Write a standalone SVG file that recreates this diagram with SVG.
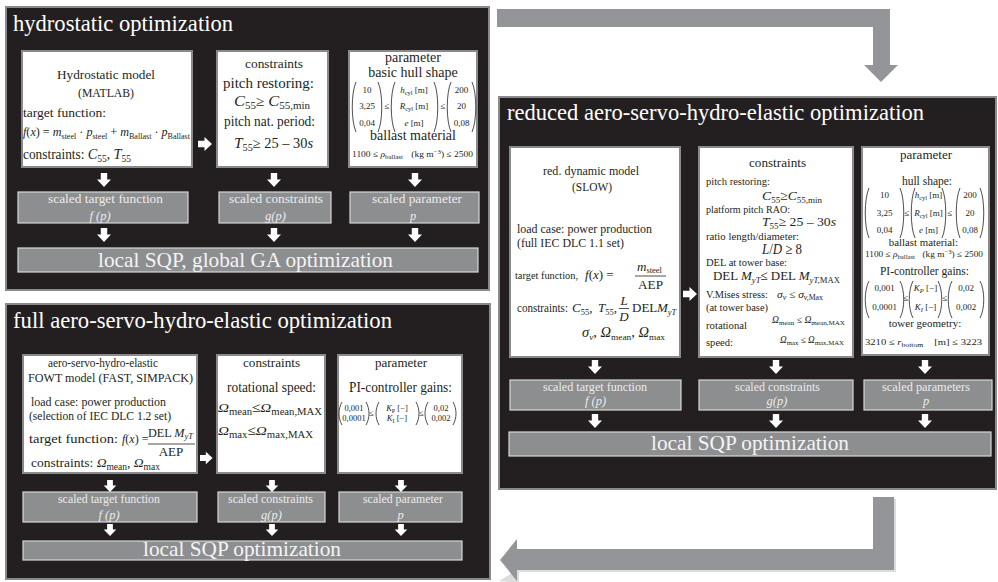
<svg xmlns="http://www.w3.org/2000/svg" width="998" height="582" viewBox="0 0 998 582" font-family="'Liberation Serif', 'DejaVu Serif', serif">
<defs>
<style>
.pn{fill:#231f20;stroke:#8a8a8a;stroke-width:2}
.bx{fill:#fff;stroke:#8a8a8a;stroke-width:2}
.sc{fill:#8d8e90;stroke:#d6d6d6;stroke-width:1.2}
.wa{fill:#fff}
.big{fill:#939598}
text{font-family:'Liberation Serif','DejaVu Serif',serif;fill:#231f20}
.ttl{font-size:22.7px;fill:#fff}
.bar{font-size:21px;fill:#f4f4f4}
.sl{font-size:12.5px;fill:#ececec}
.c{text-anchor:middle}
.i{font-style:italic}
.pr{fill:none;stroke:#231f20;stroke-width:0.8}
.fl{stroke:#231f20;stroke-width:0.8}
</style>
<path id="ad" d="M-3.2 0H3.2V6.5H7L0 14L-7 6.5H-3.2Z"/>
<path id="ar" d="M0 -3.2H6.5V-7L14 0L6.5 7V3.2H0Z"/>
</defs>
<rect width="998" height="582" fill="#fff"/>

<!-- stage 1: hydrostatic optimization -->
<g id="stage-hydrostatic">
<rect class="pn" x="6" y="7" width="483" height="283"/>
<text class="ttl" x="13" y="31" textLength="220" lengthAdjust="spacingAndGlyphs">hydrostatic optimization</text>
</g>
<g id="hs-model">
<rect class="bx" x="22" y="51" width="170" height="116"/>
<text x="57" y="79" font-size="13" textLength="98" lengthAdjust="spacingAndGlyphs">Hydrostatic model</text>
<text x="78" y="97" font-size="13" textLength="56" lengthAdjust="spacingAndGlyphs">(MATLAB)</text>
<text x="23" y="117" font-size="13.5" textLength="83" lengthAdjust="spacingAndGlyphs">target function:</text>
<text x="23" y="136" font-size="12" textLength="167" lengthAdjust="spacingAndGlyphs"><tspan class="i">f</tspan>(<tspan class="i">x</tspan>) = <tspan class="i">m</tspan><tspan font-size="8" dy="2.5">steel</tspan><tspan dy="-2.5"> · </tspan><tspan class="i">p</tspan><tspan font-size="8" dy="2.5">steel</tspan><tspan dy="-2.5"> + </tspan><tspan class="i">m</tspan><tspan font-size="8" dy="2.5">Ballast</tspan><tspan dy="-2.5"> · </tspan><tspan class="i">p</tspan><tspan font-size="8" dy="2.5">Ballast</tspan></text>
<text x="23" y="159" font-size="14" textLength="108" lengthAdjust="spacingAndGlyphs">constraints: <tspan class="i" font-size="15">C</tspan><tspan font-size="10" dy="3">55</tspan><tspan dy="-3">, </tspan><tspan class="i" font-size="15">T</tspan><tspan font-size="10" dy="3">55</tspan></text>
</g>
<g id="hs-constraints">
<rect class="bx" x="217" y="51" width="111" height="116"/>
<text x="245" y="68" font-size="13" textLength="58" lengthAdjust="spacingAndGlyphs">constraints</text>
<text x="223" y="88" font-size="14" textLength="91" lengthAdjust="spacingAndGlyphs">pitch restoring:</text>
<text x="234" y="106" font-size="14" textLength="76" lengthAdjust="spacingAndGlyphs"><tspan class="i" font-size="15">C</tspan><tspan font-size="10" dy="3">55</tspan><tspan dy="-3">≥ </tspan><tspan class="i" font-size="15">C</tspan><tspan font-size="10" dy="3">55,min</tspan></text>
<text x="224" y="126" font-size="14" textLength="91" lengthAdjust="spacingAndGlyphs">pitch nat. period:</text>
<text x="234" y="148" font-size="14" textLength="79" lengthAdjust="spacingAndGlyphs"><tspan class="i" font-size="15">T</tspan><tspan font-size="10" dy="3">55</tspan><tspan dy="-3">≥ 25 – 30<tspan class="i">s</tspan></tspan></text>
</g>
<g id="hs-parameter">
<rect class="bx" x="349" y="51" width="128" height="116"/>
<text class="c" x="413" y="62" font-size="14">parameter</text>
<text class="c" x="413" y="77" font-size="14">basic hull shape</text>
<path class="pr" d="M356 82C351 93 351 121 356 132M378 82C383 93 383 121 378 132"/>
<text class="c" x="367" y="93" font-size="9">10</text>
<text class="c" x="367" y="109" font-size="9">3,25</text>
<text class="c" x="367" y="126" font-size="9">0,04</text>
<text class="c" x="387" y="109" font-size="9">≤</text>
<path class="pr" d="M395 82C390 93 390 121 395 132M434 82C439 93 439 121 434 132"/>
<text class="c" x="414" y="93" font-size="9"><tspan class="i">h</tspan><tspan font-size="6.5" dy="1.5">cyl</tspan><tspan dy="-1.5"> [m]</tspan></text>
<text class="c" x="414" y="109" font-size="9"><tspan class="i">R</tspan><tspan font-size="6.5" dy="1.5">cyl</tspan><tspan dy="-1.5"> [m]</tspan></text>
<text class="c" x="414" y="126" font-size="9"><tspan class="i">e</tspan> [m]</text>
<text class="c" x="443" y="109" font-size="9">≤</text>
<path class="pr" d="M451 82C446 93 446 121 451 132M472 82C477 93 477 121 472 132"/>
<text class="c" x="461.5" y="93" font-size="9">200</text>
<text class="c" x="461.5" y="109" font-size="9">20</text>
<text class="c" x="461.5" y="126" font-size="9">0,08</text>
<text class="c" x="413" y="140" font-size="14">ballast material</text>
<text x="352" y="157" font-size="9" textLength="121" lengthAdjust="spacingAndGlyphs">1100 ≤ <tspan class="i">ρ</tspan><tspan font-size="6.5" dy="1.5">ballast</tspan><tspan dy="-1.5" dx="8">(kg m</tspan><tspan font-size="6.5" dy="-3">−3</tspan><tspan dy="3">) ≤ 2500</tspan></text>
</g>
<g id="hs-scaled-target">
<rect class="sc" x="18" y="192" width="170" height="31"/>
<text class="sl" x="48" y="203" font-size="13" textLength="115" lengthAdjust="spacingAndGlyphs">scaled target function</text>
<text class="sl c i" x="100" y="220" font-size="13">f (p)</text>
</g>
<g id="hs-scaled-constraints">
<rect class="sc" x="219" y="192" width="112" height="31"/>
<text class="sl" x="229" y="203" textLength="94" lengthAdjust="spacingAndGlyphs">scaled constraints</text>
<text class="sl c i" x="275.5" y="220">g(p)</text>
</g>
<g id="hs-scaled-parameter">
<rect class="sc" x="350" y="192" width="129" height="31"/>
<text class="sl" x="372" y="203" textLength="90" lengthAdjust="spacingAndGlyphs">scaled parameter</text>
<text class="sl c i" x="413" y="220">p</text>
</g>
<g id="hs-solver">
<rect class="sc" x="18" y="248" width="460" height="24"/>
<text class="bar" x="98" y="267" textLength="295" lengthAdjust="spacingAndGlyphs">local SQP, global GA optimization</text>
</g>

<!-- stage 2: reduced aero-servo-hydro-elastic optimization -->
<g id="stage-reduced">
<rect class="pn" x="499" y="97" width="497" height="392"/>
<text class="ttl" x="507" y="120" textLength="417" lengthAdjust="spacingAndGlyphs">reduced aero-servo-hydro-elastic optimization</text>
</g>
<g id="red-model">
<rect class="bx" x="510" y="147" width="170" height="210"/>
<text x="543" y="175" font-size="12" textLength="96" lengthAdjust="spacingAndGlyphs">red. dynamic model</text>
<text x="572" y="191" font-size="12" textLength="40" lengthAdjust="spacingAndGlyphs">(SLOW)</text>
<text x="517" y="233" font-size="12.5" textLength="135" lengthAdjust="spacingAndGlyphs">load case: power production</text>
<text x="517" y="247" font-size="12.5" textLength="107" lengthAdjust="spacingAndGlyphs">(full IEC DLC 1.1 set)</text>
<text x="515" y="279" font-size="11" textLength="63" lengthAdjust="spacingAndGlyphs">target function,</text>
<text x="585" y="279" font-size="13"><tspan class="i">f</tspan>(<tspan class="i">x</tspan>) =</text>
<text x="637" y="271"><tspan class="i" font-size="13">m</tspan><tspan font-size="8.5" dy="2">steel</tspan></text>
<line class="fl" x1="635" y1="276" x2="666" y2="276"/>
<text x="638" y="289" font-size="13" textLength="25" lengthAdjust="spacingAndGlyphs">AEP</text>
<text x="517" y="312" font-size="11.5" textLength="51" lengthAdjust="spacingAndGlyphs">constraints:</text>
<text x="572" y="312" font-size="13"><tspan class="i">C</tspan><tspan font-size="8.5" dy="2.5">55</tspan><tspan dy="-2.5">,</tspan></text>
<text x="598" y="312" font-size="13"><tspan class="i">T</tspan><tspan font-size="8.5" dy="2.5">55</tspan><tspan dy="-2.5">,</tspan></text>
<text class="c i" x="624" y="305" font-size="13">L</text>
<line class="fl" x1="619" y1="308.5" x2="629" y2="308.5"/>
<text class="c i" x="624" y="321" font-size="13">D</text>
<text x="632" y="312" font-size="13">DEL</text>
<text x="657" y="312" font-size="13"><tspan class="i">M</tspan><tspan class="i" font-size="8.5" dy="2.5">yT</tspan></text>
<text x="582" y="337" font-size="14" textLength="83" lengthAdjust="spacingAndGlyphs"><tspan class="i">σ</tspan><tspan class="i" font-size="9" dy="2.5">v</tspan><tspan dy="-2.5">, </tspan><tspan class="i">Ω</tspan><tspan font-size="9" dy="2.5">mean</tspan><tspan dy="-2.5">, </tspan><tspan class="i">Ω</tspan><tspan font-size="9" dy="2.5">max</tspan></text>
</g>
<g id="red-constraints">
<rect class="bx" x="699" y="147" width="154" height="210"/>
<text x="749" y="167" font-size="13" textLength="57" lengthAdjust="spacingAndGlyphs">constraints</text>
<text x="706" y="185" font-size="10.5" textLength="64" lengthAdjust="spacingAndGlyphs">pitch restoring:</text>
<text x="762" y="200" font-size="13" textLength="60" lengthAdjust="spacingAndGlyphs"><tspan class="i">C</tspan><tspan font-size="8.5" dy="2.5">55</tspan><tspan dy="-2.5">≥</tspan><tspan class="i">C</tspan><tspan font-size="8.5" dy="2.5">55,min</tspan></text>
<text x="706" y="213" font-size="10.5" textLength="84" lengthAdjust="spacingAndGlyphs">platform pitch RAO:</text>
<text x="762" y="226" font-size="13" textLength="74" lengthAdjust="spacingAndGlyphs"><tspan class="i">T</tspan><tspan font-size="8.5" dy="2.5">55</tspan><tspan dy="-2.5">≥ 25 – 30<tspan class="i">s</tspan></tspan></text>
<text x="706" y="240" font-size="10.5" textLength="93" lengthAdjust="spacingAndGlyphs">ratio length/diameter:</text>
<text x="762" y="254" font-size="15" textLength="40" lengthAdjust="spacingAndGlyphs"><tspan class="i">L</tspan>/<tspan class="i">D</tspan> ≥ 8</text>
<text x="706" y="266" font-size="10.5" textLength="81" lengthAdjust="spacingAndGlyphs">DEL at tower base:</text>
<text x="713" y="280" font-size="13.5" textLength="127" lengthAdjust="spacingAndGlyphs">DEL <tspan class="i">M</tspan><tspan class="i" font-size="9" dy="2.5">yT</tspan><tspan dy="-2.5">≤ DEL </tspan><tspan class="i">M</tspan><tspan class="i" font-size="9" dy="2.5">yT,</tspan><tspan font-size="9">MAX</tspan></text>
<text x="706" y="298" font-size="10.5" textLength="62" lengthAdjust="spacingAndGlyphs">V.Mises stress:</text>
<text x="777" y="298" font-size="11" textLength="46" lengthAdjust="spacingAndGlyphs"><tspan class="i">σ</tspan><tspan class="i" font-size="7.5" dy="2">v</tspan><tspan dy="-2"> ≤ </tspan><tspan class="i">σ</tspan><tspan class="i" font-size="7.5" dy="2">v,</tspan><tspan font-size="7.5">Max</tspan></text>
<text x="706" y="311" font-size="10.5" textLength="62" lengthAdjust="spacingAndGlyphs">(at tower base)</text>
<text x="772" y="323" font-size="9.5" textLength="73" lengthAdjust="spacingAndGlyphs"><tspan class="i">Ω</tspan><tspan font-size="7" dy="2">mean</tspan><tspan dy="-2"> ≤ </tspan><tspan class="i">Ω</tspan><tspan font-size="7" dy="2">mean,MAX</tspan></text>
<text x="706" y="329" font-size="10.5" textLength="41" lengthAdjust="spacingAndGlyphs">rotational</text>
<text x="706" y="346" font-size="10.5" textLength="27" lengthAdjust="spacingAndGlyphs">speed:</text>
<text x="780" y="343" font-size="9.5" textLength="64" lengthAdjust="spacingAndGlyphs"><tspan class="i">Ω</tspan><tspan font-size="7" dy="2">max</tspan><tspan dy="-2"> ≤ </tspan><tspan class="i">Ω</tspan><tspan font-size="7" dy="2">max,MAX</tspan></text>
</g>
<g id="red-parameter">
<rect class="bx" x="862" y="147" width="127" height="208"/>
<text class="c" x="926" y="159" font-size="13">parameter</text>
<text class="c" x="927" y="185" font-size="11.5">hull shape:</text>
<path class="pr" d="M869 188C864 199 864 227 869 238M900 188C905 199 905 227 900 238"/>
<text class="c" x="884.5" y="198" font-size="9">10</text>
<text class="c" x="884.5" y="216" font-size="9">3,25</text>
<text class="c" x="884.5" y="233" font-size="9">0,04</text>
<text class="c" x="907" y="216" font-size="9">≤</text>
<path class="pr" d="M915 188C910 199 910 227 915 238M942 188C947 199 947 227 942 238"/>
<text class="c" x="928.5" y="198" font-size="9"><tspan class="i">h</tspan><tspan font-size="6.5" dy="1.5">cyl</tspan><tspan dy="-1.5"> [m]</tspan></text>
<text class="c" x="928.5" y="216" font-size="9"><tspan class="i">R</tspan><tspan font-size="6.5" dy="1.5">cyl</tspan><tspan dy="-1.5"> [m]</tspan></text>
<text class="c" x="928.5" y="233" font-size="9"><tspan class="i">e</tspan> [m]</text>
<text class="c" x="950" y="216" font-size="9">≤</text>
<path class="pr" d="M960 188C955 199 955 227 960 238M980 188C985 199 985 227 980 238"/>
<text class="c" x="970" y="198" font-size="9">200</text>
<text class="c" x="970" y="216" font-size="9">20</text>
<text class="c" x="970" y="233" font-size="9">0,08</text>
<text class="c" x="923.5" y="246" font-size="10.8">ballast material:</text>
<text x="865" y="257" font-size="8.7" textLength="118" lengthAdjust="spacingAndGlyphs">1100 ≤ <tspan class="i">ρ</tspan><tspan font-size="6.3" dy="1.5">ballast</tspan><tspan dy="-1.5" dx="7">(kg m</tspan><tspan font-size="6.3" dy="-3">−3</tspan><tspan dy="3">) ≤ 2500</tspan></text>
<text class="c" x="924.5" y="275" font-size="11.5">PI-controller gains:</text>
<path class="pr" d="M869 281C864 290 864 309 869 318M900 281C905 290 905 309 900 318"/>
<text class="c" x="884.5" y="291" font-size="9">0,001</text>
<text class="c" x="884.5" y="310" font-size="9">0,0001</text>
<text class="c" x="906" y="301" font-size="9">≤</text>
<path class="pr" d="M913 281C908 290 908 309 913 318M938 281C943 290 943 309 938 318"/>
<text class="c" x="925.5" y="291" font-size="9"><tspan class="i">K</tspan><tspan class="i" font-size="6.5" dy="1.5">P</tspan><tspan dy="-1.5"> [−]</tspan></text>
<text class="c" x="925.5" y="310" font-size="9"><tspan class="i">K</tspan><tspan class="i" font-size="6.5" dy="1.5">I</tspan><tspan dy="-1.5"> [−]</tspan></text>
<text class="c" x="945" y="301" font-size="9">≤</text>
<path class="pr" d="M952 281C947 290 947 309 952 318M980 281C985 290 985 309 980 318"/>
<text class="c" x="966" y="291" font-size="9">0,02</text>
<text class="c" x="966" y="310" font-size="9">0,002</text>
<text class="c" x="925" y="327" font-size="11">tower geometry:</text>
<text x="865" y="345" font-size="8.7" textLength="117" lengthAdjust="spacingAndGlyphs">3210 ≤ <tspan class="i">r</tspan><tspan font-size="6.3" dy="1.5">bottom</tspan><tspan dy="-1.5" dx="9">[m] ≤ 3223</tspan></text>
</g>
<g id="red-scaled-target">
<rect class="sc" x="510" y="380" width="171" height="30"/>
<text class="sl" x="543" y="391" font-size="12" textLength="104" lengthAdjust="spacingAndGlyphs">scaled target function</text>
<text class="sl c i" x="595.5" y="405" font-size="12">f (p)</text>
</g>
<g id="red-scaled-constraints">
<rect class="sc" x="699" y="380" width="154" height="30"/>
<text class="sl" x="735" y="391" font-size="12" textLength="85" lengthAdjust="spacingAndGlyphs">scaled constraints</text>
<text class="sl c i" x="777" y="405" font-size="12">g(p)</text>
</g>
<g id="red-scaled-parameters">
<rect class="sc" x="864" y="380" width="128" height="30"/>
<text class="sl" x="882" y="391" font-size="12" textLength="88" lengthAdjust="spacingAndGlyphs">scaled parameters</text>
<text class="sl c i" x="926" y="405" font-size="12">p</text>
</g>
<g id="red-solver">
<rect class="sc" x="509" y="432" width="482" height="24"/>
<text class="bar" x="651" y="450" textLength="198" lengthAdjust="spacingAndGlyphs">local SQP optimization</text>
</g>

<!-- stage 3: full aero-servo-hydro-elastic optimization -->
<g id="stage-full">
<rect class="pn" x="6" y="304" width="484" height="275"/>
<text class="ttl" x="13" y="328" textLength="379" lengthAdjust="spacingAndGlyphs">full aero-servo-hydro-elastic optimization</text>
</g>
<g id="full-model">
<rect class="bx" x="23" y="355" width="174" height="118"/>
<text x="48" y="367" font-size="12.5" textLength="110" lengthAdjust="spacingAndGlyphs">aero-servo-hydro-elastic</text>
<text x="28" y="382" font-size="13" textLength="165" lengthAdjust="spacingAndGlyphs">FOWT model (FAST, SIMPACK)</text>
<text x="31" y="406" font-size="12.5" textLength="135" lengthAdjust="spacingAndGlyphs">load case: power production</text>
<text x="29" y="420" font-size="12.5" textLength="142" lengthAdjust="spacingAndGlyphs">(selection of IEC DLC 1.2 set)</text>
<text x="29" y="443" font-size="13.5" textLength="89" lengthAdjust="spacingAndGlyphs">target function:</text>
<text x="122" y="443" font-size="12"><tspan class="i">f</tspan>(<tspan class="i">x</tspan>) =</text>
<text x="148" y="437" font-size="13" textLength="45" lengthAdjust="spacingAndGlyphs">DEL <tspan class="i">M</tspan><tspan class="i" font-size="9" dy="2">yT</tspan></text>
<line class="fl" x1="148" y1="444" x2="195" y2="444"/>
<text class="c" x="171" y="456" font-size="13">AEP</text>
<text x="31" y="467" font-size="13.5" textLength="129" lengthAdjust="spacingAndGlyphs">constraints: <tspan class="i">Ω</tspan><tspan font-size="9.5" dy="3">mean</tspan><tspan dy="-3">, </tspan><tspan class="i">Ω</tspan><tspan font-size="9.5" dy="3">max</tspan></text>
</g>
<g id="full-constraints">
<rect class="bx" x="217" y="355" width="108" height="118"/>
<text x="243" y="367" font-size="13" textLength="57" lengthAdjust="spacingAndGlyphs">constraints</text>
<text x="227" y="392" font-size="14" textLength="89" lengthAdjust="spacingAndGlyphs">rotational speed:</text>
<text x="218" y="412" font-size="13.5" textLength="104" lengthAdjust="spacingAndGlyphs"><tspan class="i">Ω</tspan><tspan font-size="9.5" dy="3">mean</tspan><tspan dy="-3">≤</tspan><tspan class="i">Ω</tspan><tspan font-size="9.5" dy="3">mean,MAX</tspan></text>
<text x="218" y="435" font-size="13.5" textLength="95" lengthAdjust="spacingAndGlyphs"><tspan class="i">Ω</tspan><tspan font-size="9.5" dy="3">max</tspan><tspan dy="-3">≤</tspan><tspan class="i">Ω</tspan><tspan font-size="9.5" dy="3">max,MAX</tspan></text>
</g>
<g id="full-parameter">
<rect class="bx" x="338" y="355" width="124" height="118"/>
<text x="375" y="367" font-size="13" textLength="52" lengthAdjust="spacingAndGlyphs">parameter</text>
<text x="349" y="392" font-size="14" textLength="103" lengthAdjust="spacingAndGlyphs">PI-controller gains:</text>
<path class="pr" d="M342 402C338 409 338 418 342 425M366 402C370 409 370 418 366 425"/>
<text class="c" x="354" y="411" font-size="8.5">0,001</text>
<text class="c" x="354" y="421" font-size="8.5">0,0001</text>
<text class="c" x="371.5" y="416" font-size="8.5">≤</text>
<path class="pr" d="M379 402C375 409 375 418 379 425M416 402C420 409 420 418 416 425"/>
<text class="c" x="397" y="411" font-size="8.5"><tspan class="i">K</tspan><tspan font-size="6" dy="1.5">P</tspan><tspan dy="-1.5"> [−]</tspan></text>
<text class="c" x="397" y="421" font-size="8.5"><tspan class="i">K</tspan><tspan font-size="6" dy="1.5">I</tspan><tspan dy="-1.5"> [−]</tspan></text>
<text class="c" x="421.5" y="416" font-size="8.5">≤</text>
<path class="pr" d="M428 402C424 409 424 418 428 425M453 402C457 409 457 418 453 425"/>
<text class="c" x="441" y="411" font-size="8.5">0,02</text>
<text class="c" x="441" y="421" font-size="8.5">0,002</text>
</g>
<g id="full-scaled-target">
<rect class="sc" x="23" y="492" width="174" height="30"/>
<text class="sl" x="58" y="503" font-size="12" textLength="102" lengthAdjust="spacingAndGlyphs">scaled target function</text>
<text class="sl c i" x="109" y="519" font-size="12">f (p)</text>
</g>
<g id="full-scaled-constraints">
<rect class="sc" x="218" y="492" width="107" height="30"/>
<text class="sl" x="228" y="503" font-size="12" textLength="85" lengthAdjust="spacingAndGlyphs">scaled constraints</text>
<text class="sl c i" x="271.5" y="519" font-size="12">g(p)</text>
</g>
<g id="full-scaled-parameter">
<rect class="sc" x="339" y="492" width="123" height="30"/>
<text class="sl" x="363" y="503" font-size="12" textLength="80" lengthAdjust="spacingAndGlyphs">scaled parameter</text>
<text class="sl c i" x="400.5" y="519" font-size="12">p</text>
</g>
<g id="full-solver">
<rect class="sc" x="23" y="541" width="439" height="19"/>
<text class="bar" x="143" y="556" textLength="198" lengthAdjust="spacingAndGlyphs">local SQP optimization</text>
</g>

<!-- connectors -->
<g id="connectors">
<polygon points="499,581 519,583 519,572 896,572 896,499 894,499 894,570 517,570" fill="#dcdcdc"/>
<polygon class="big" points="497,9 890,9 890,65 898,65 881,82 864,65 873,65 873,27 497,27"/>
<polygon class="big" points="873,497 894,497 894,570 517,570 517,581 500,560 517,539 517,549 873,549"/>
<g class="wa">
<use href="#ar" x="198" y="144"/>
<use href="#ad" x="104" y="173"/><use href="#ad" x="274" y="173"/><use href="#ad" x="415" y="173"/>
<use href="#ad" x="104" y="228"/><use href="#ad" x="274" y="228"/><use href="#ad" x="415" y="228"/>
<use href="#ar" x="683" y="294"/>
<use href="#ad" x="595" y="360"/><use href="#ad" x="776" y="360"/><use href="#ad" x="925" y="360"/>
<use href="#ad" x="595" y="414"/><use href="#ad" x="776" y="414"/><use href="#ad" x="925" y="414"/>
<use href="#ar" transform="translate(200 458) scale(0.9)"/>
<use href="#ad" transform="translate(110 480) scale(0.9 0.85)"/><use href="#ad" transform="translate(272 480) scale(0.9 0.85)"/><use href="#ad" transform="translate(401 480) scale(0.9 0.85)"/>
<use href="#ad" transform="translate(110 524) scale(0.9 0.85)"/><use href="#ad" transform="translate(272 524) scale(0.9 0.85)"/><use href="#ad" transform="translate(401 524) scale(0.9 0.85)"/>
</g>
</g>
</svg>
